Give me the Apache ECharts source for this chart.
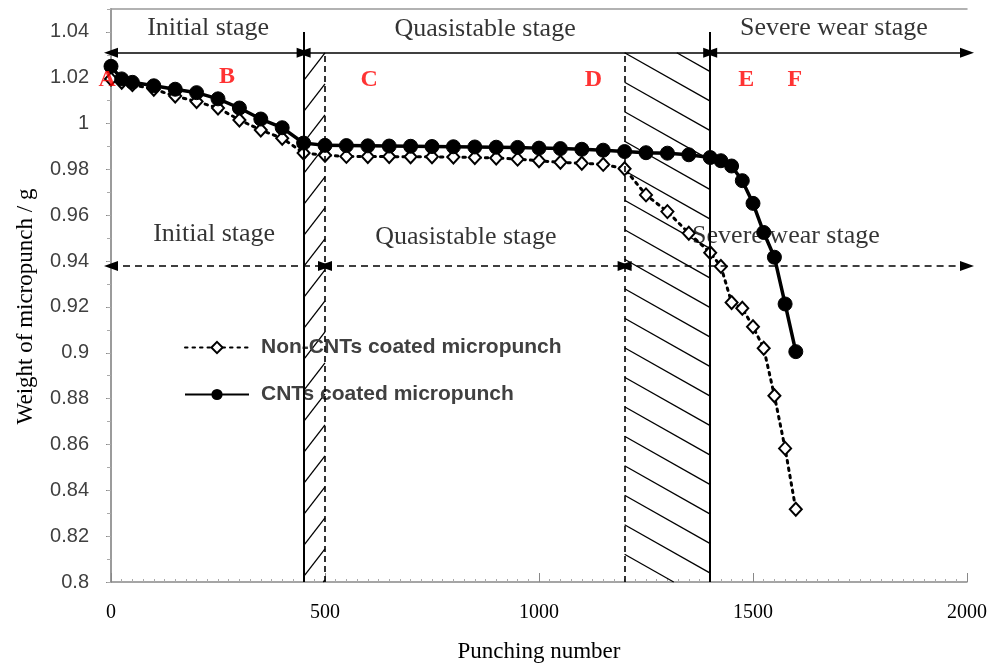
<!DOCTYPE html>
<html><head><meta charset="utf-8">
<script src="https://cdn.jsdelivr.net/npm/echarts@6/dist/echarts.min.js"></script>
<style>html,body{margin:0;padding:0;background:#fff}#c{width:1001px;height:671px}</style>
</head><body><div id="c"></div>
<script>
// ---- data ----
const punchingNumber = [0,25,50,100,150,200,250,300,350,400,450,500,550,600,650,700,750,800,850,900,950,1000,1050,1100,1150,1200,1250,1300,1350,1400,1425,1450,1475,1500,1525,1550,1575,1600];
const cntCoated = [1.025,1.0195,1.018,1.0165,1.015,1.0135,1.0108,1.0068,1.002,0.9982,0.9915,0.9905,0.9904,0.9903,0.9902,0.9901,0.99,0.9899,0.9898,0.9897,0.9896,0.9893,0.9891,0.9888,0.9884,0.9878,0.9873,0.9871,0.9864,0.9852,0.9838,0.9815,0.9751,0.9652,0.9525,0.9417,0.9213,0.9005];
const nonCntCoated = [1.0195,1.018,1.017,1.015,1.012,1.0096,1.0068,1.0016,0.9972,0.9936,0.9872,0.9862,0.9857,0.9856,0.9856,0.9855,0.9855,0.9854,0.9852,0.985,0.9845,0.9838,0.9831,0.9827,0.9822,0.9803,0.9689,0.9616,0.9522,0.9437,0.9377,0.9219,0.9194,0.9114,0.902,0.8813,0.8583,0.8317];
const seriesNames = ['Non-CNTs coated micropunch','CNTs coated micropunch'];
const xTicks = [0,500,1000,1500,2000];
const yTicks = ['0.8','0.82','0.84','0.86','0.88','0.9','0.92','0.94','0.96','0.98','1','1.02','1.04'];
// stage boundaries (punching number)
const stagesCNT = [0,450,1400,2000];       // solid arrows on top
const stagesNonCNT = [0,500,1200,2000];    // dashed arrows in the middle
const stageNames = ['Initial stage','Quasistable stage','Severe wear stage'];
const topArrowY = 1.0309, midArrowY = 0.9379, hatchTop = 1.0309;
const topLabelPos = [[227,1.0417],[874,1.0413],[1689,1.0418]];
const midLabelPos = [[241,0.9519],[829,0.9505],[1577,0.9511]];
const pointLetters = ['A','B','C','D','E','F'];
const pointLetterPos = [[-9,1.0191],[271,1.0204],[603,1.0191],[1127,1.0191],[1484,1.0191],[1598,1.0191]];
const hatchRegions = [[450,500,-1.3,31],[1200,1400,0.565,29.5]]; // x0,x1,slope(px),spacing(px)

const serif = 'Liberation Serif';
const chart = echarts.init(document.getElementById('c'));

function hatchRender(params, api){
  const x0v = api.value(0), x1v = api.value(1), s = api.value(2), sp = api.value(3);
  const pTL = api.coord([x0v, hatchTop]);
  const pBR = api.coord([x1v, 0.8]);
  const X0 = pTL[0], Y0 = pTL[1], X1 = pBR[0], Y1 = pBR[1];
  const ax = s > 0 ? X0 : X1, ay = Y0;
  const children = [];
  for (let k = -80; k <= 80; k++) {
    const a = ay + k*sp;
    let xa = ax + (Y0 - a)/s, xb = ax + (Y1 - a)/s;
    let lo = Math.max(Math.min(xa,xb), X0), hi = Math.min(Math.max(xa,xb), X1);
    if (hi - lo < 0.5) continue;
    children.push({type:'line', shape:{x1:lo, y1:a + s*(lo-ax), x2:hi, y2:a + s*(hi-ax)},
      style:{stroke:'#000', lineWidth:1.3}});
  }
  return {type:'group', children};
}

const vLines = [];
[stagesCNT[1], stagesCNT[2]].forEach(v => vLines.push([{coord:[v,0.8],symbol:'none'},{coord:[v,1.04],symbol:'none',lineStyle:{type:'solid',width:2,color:'#000'}}]));
[stagesNonCNT[1], stagesNonCNT[2]].forEach(v => vLines.push([{coord:[v,0.8],symbol:'none'},{coord:[v,hatchTop],symbol:'none',lineStyle:{type:[6,4],width:1.6,color:'#000'}}]));
for (let i=0;i<3;i++){
  vLines.push([{coord:[stagesCNT[i],topArrowY],symbol:'triangle'},{coord:[stagesCNT[i+1],topArrowY],symbol:'triangle',lineStyle:{type:'solid',width:1.6,color:'#000'}}]);
  vLines.push([{coord:[stagesNonCNT[i],midArrowY],symbol:'triangle'},{coord:[stagesNonCNT[i+1],midArrowY],symbol:'triangle',lineStyle:{type:[7,5],width:1.6,color:'#000'}}]);
}

const option = {
  animation:false,
  grid:{left:111,right:34,top:9,bottom:89},
  legend:{
    data:seriesNames, orient:'vertical', left:179, top:332, itemGap:26,
    itemWidth:64, itemHeight:14,
    textStyle:{fontFamily:'Liberation Sans', fontSize:21, fontWeight:'bold', color:'#404040', padding:[0,0,0,7]}
  },
  xAxis:[{
    type:'value', min:0, max:2000, interval:500,
    name:'Punching number', nameLocation:'middle', nameGap:58,
    nameTextStyle:{fontFamily:serif, fontSize:23, color:'#000'},
    axisLine:{lineStyle:{color:'#888',width:1.5}},
    axisTick:{inside:true,length:9,lineStyle:{color:'#888'}},
    minorTick:{show:true,splitNumber:20,length:3,lineStyle:{color:'#aaa'}},
    splitLine:{show:false},
    axisLabel:{fontFamily:serif, fontSize:20, color:'#000', margin:21,
      formatter:v => { const i = xTicks.indexOf(v); return i < 0 ? '' : String(xTicks[i]); }}
  },{
    type:'value', min:0, max:2000, position:'top',
    axisLine:{show:true,lineStyle:{color:'#999',width:1.5}},
    axisTick:{show:false}, axisLabel:{show:false}, splitLine:{show:false}
  }],
  yAxis:[{
    type:'value', min:0.8, max:1.05, interval:0.02,
    name:'Weight of micropunch / g', nameLocation:'middle', nameGap:74,
    nameTextStyle:{fontFamily:serif, fontSize:23, color:'#000', padding:[0,22,0,0]},
    axisLine:{show:true,lineStyle:{color:'#888',width:1.5}},
    axisTick:{show:true,length:5,lineStyle:{color:'#888'}},
    splitLine:{show:false},
    axisLabel:{fontFamily:'Liberation Sans', fontSize:20, color:'#404040', margin:22, showMaxLabel:false,
      formatter:v => { const i = Math.round((v-0.8)/0.02); return (Math.abs(v-0.8-i*0.02) < 1e-6 && yTicks[i]) ? yTicks[i] : ''; }}
  },{
    type:'value', min:0.8, max:1.05, interval:0.01, position:'right',
    axisLine:{show:true,lineStyle:{color:'#999',width:1.5}},
    axisTick:{show:true,inside:true,length:4,lineStyle:{color:'#aaa'}},
    axisLabel:{show:false}, splitLine:{show:false}
  }],
  series:[
    {type:'custom', name:'hatch', renderItem:hatchRender, data:hatchRegions, silent:true, z:1, clip:false},
    {type:'line', name:seriesNames[0], data:punchingNumber.map((x,i)=>[x,nonCntCoated[i]]),
      symbol:'diamond', symbolSize:[12,13], z:3,
      lineStyle:{color:'#000',width:3,type:[2.5,5],cap:'round'},
      itemStyle:{color:'#fff',borderColor:'#000',borderWidth:2}},
    {type:'line', name:seriesNames[1], data:punchingNumber.map((x,i)=>[x,cntCoated[i]]),
      symbol:'circle', symbolSize:14, z:4,
      lineStyle:{color:'#000',width:3.5},
      itemStyle:{color:'#000',borderColor:'#000'}},
    {type:'scatter', name:'stageText', clip:false, z:6, symbolSize:1, itemStyle:{color:'rgba(0,0,0,0)'},
      data:stageNames.map((n,i)=>({value:topLabelPos[i],name:n})).concat(stageNames.map((n,i)=>({value:midLabelPos[i],name:n}))),
      label:{show:true, position:'inside', formatter:p=>p.name, fontFamily:serif, fontSize:26, color:'#000', textBorderWidth:0},
      markLine:{silent:true, symbolSize:[10,14], label:{show:false}, data:vLines, lineStyle:{color:'#000'}}
    },
    {type:'scatter', name:'letters', clip:false, z:7, symbolSize:1, itemStyle:{color:'rgba(0,0,0,0)'},
      data:pointLetters.map((n,i)=>({value:pointLetterPos[i],name:n})),
      label:{show:true, position:'inside', formatter:p=>p.name, fontFamily:serif, fontSize:24, fontWeight:'bold', color:'#ff0000', textBorderWidth:0}}
  ]
};
chart.setOption(option);
</script></body></html>
